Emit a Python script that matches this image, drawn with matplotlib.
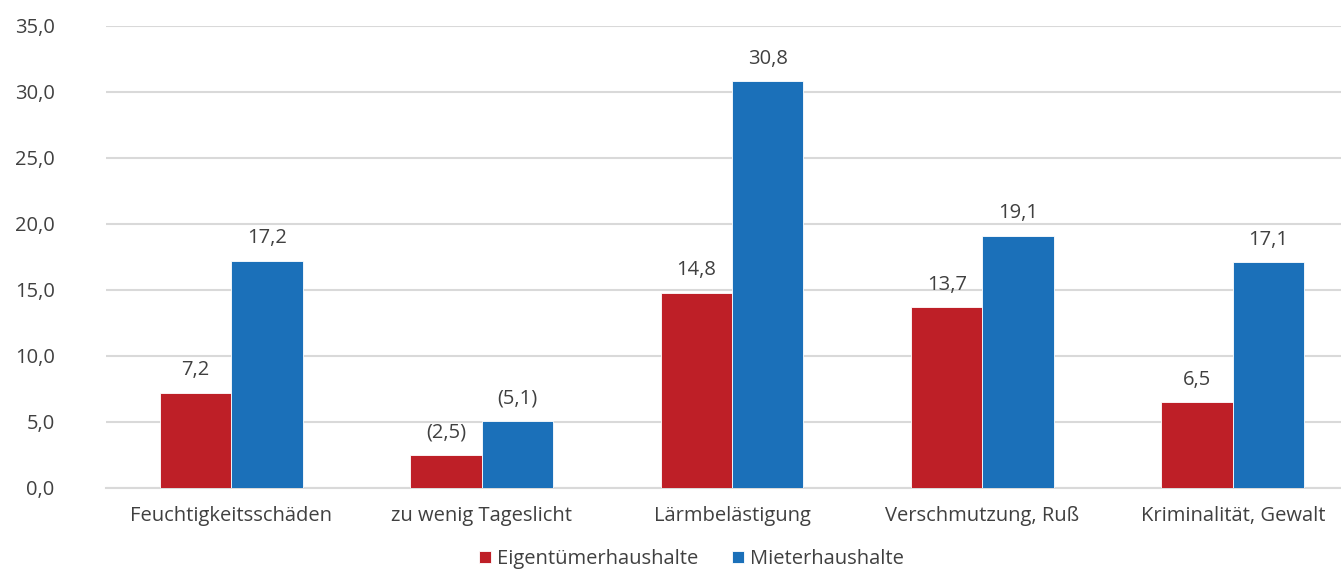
import matplotlib
matplotlib.use("Agg")
import matplotlib.pyplot as plt
import numpy as np

categories = ["Feuchtigkeitsschäden", "zu wenig Tageslicht", "Lärmbelästigung",
              "Verschmutzung, Ruß", "Kriminalität, Gewalt"]
eigentuemer = [7.2, 2.5, 14.8, 13.7, 6.5]
mieter = [17.2, 5.1, 30.8, 19.1, 17.1]
eig_labels = ["7,2", "(2,5)", "14,8", "13,7", "6,5"]
mie_labels = ["17,2", "(5,1)", "30,8", "19,1", "17,1"]
series_names = ["Eigentümerhaushalte", "Mieterhaushalte"]
yticks = [0, 5, 10, 15, 20, 25, 30, 35]

red = "#BE1F27"
blue = "#1B70B9"
text_col = "#404040"
grid_col = "#D9D9D9"
fs = 14.5

plt.rcParams['font.family'] = ['Open Sans', 'DejaVu Sans']

fig = plt.figure(figsize=(13.41, 5.71), dpi=100)
ax = fig.add_axes([106/1341, 1-488/571, 1252/1341, (488-26)/571])

x = np.arange(len(categories))
w = 0.285
b1 = ax.bar(x - w/2, eigentuemer, w, color=red, label=series_names[0],
            edgecolor="white", linewidth=0.6, zorder=3)
b2 = ax.bar(x + w/2, mieter, w, color=blue, label=series_names[1],
            edgecolor="white", linewidth=0.6, zorder=3)

for rect, lab in zip(b1, eig_labels):
    ax.annotate(lab, (rect.get_x() + rect.get_width()/2, rect.get_height()),
                xytext=(0, 9), textcoords="offset points", ha="center", va="bottom",
                fontsize=fs, color=text_col)
for rect, lab in zip(b2, mie_labels):
    ax.annotate(lab, (rect.get_x() + rect.get_width()/2, rect.get_height()),
                xytext=(0, 9), textcoords="offset points", ha="center", va="bottom",
                fontsize=fs, color=text_col)

ax.set_xlim(-0.5, len(categories) - 0.5)
ax.set_ylim(0, 35)
ax.set_yticks(yticks)
ax.set_yticklabels([f"{v:.1f}".replace(".", ",") for v in yticks])
ax.set_xticks(x)
ax.set_xticklabels(categories)
ax.yaxis.grid(True, color=grid_col, linewidth=1.5, zorder=0)
ax.set_axisbelow(True)
for s in ["top", "right", "left"]:
    ax.spines[s].set_visible(False)
ax.spines["bottom"].set_color(grid_col)
ax.spines["bottom"].set_linewidth(1.5)
ax.tick_params(axis="y", length=0, pad=37, labelsize=fs, labelcolor=text_col)
ax.tick_params(axis="x", length=0, pad=13, labelsize=fs, labelcolor=text_col)

fig.legend(handles=[b1, b2], labels=series_names, loc="center",
           bbox_to_anchor=(691.5/1341, 1-559/571), ncol=2, frameon=False,
           fontsize=fs, labelcolor=text_col, handlelength=0.6, handleheight=0.6,
           handletextpad=0.3, columnspacing=1.7)

fig.savefig("out.png", dpi=100)
